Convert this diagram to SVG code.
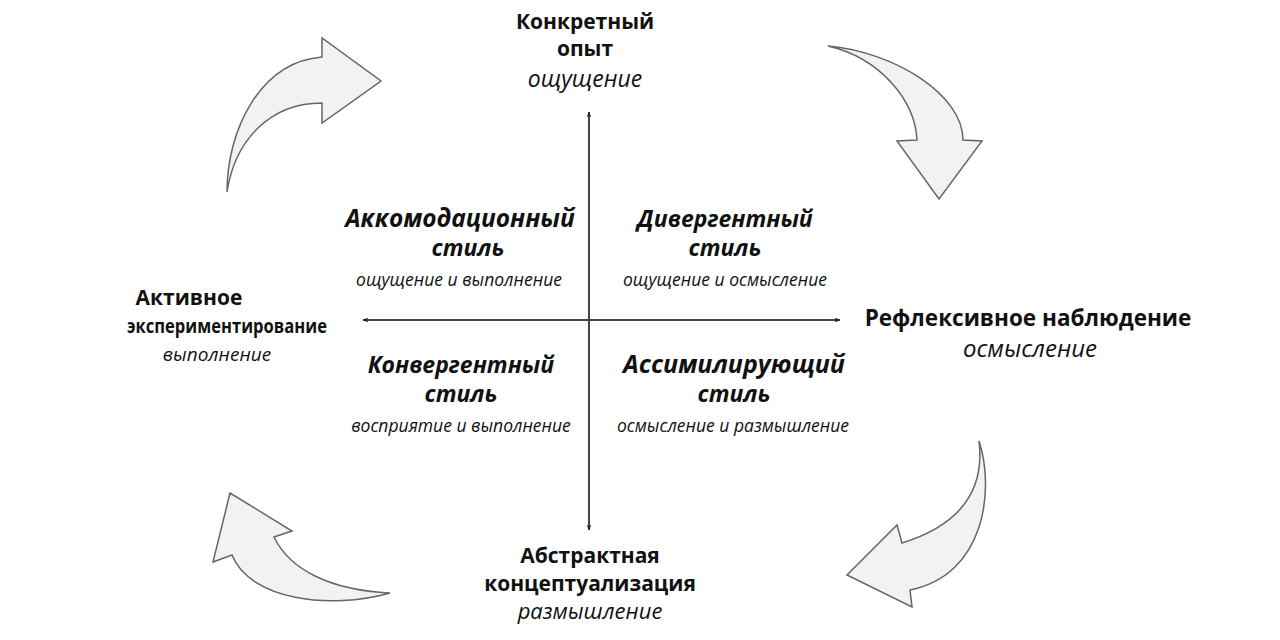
<svg xmlns="http://www.w3.org/2000/svg" width="1280" height="640" viewBox="0 0 1280 640">
<style>
text{font-family:"Open Sans","DejaVu Sans",sans-serif;fill:#111;text-anchor:middle}
.b{font-weight:bold;font-size:21px}
.i{font-style:italic;font-size:22px}
.s{font-weight:bold;font-style:italic;font-size:23px}
.t{font-style:italic;font-size:17.5px}
.arrow{fill:#f2f2f2;stroke:#666;stroke-width:1.5;stroke-linejoin:miter}
.axis{stroke:#444;stroke-width:2;fill:none}
</style>
<defs>
<marker id="ah" viewBox="0 0 10 10" refX="9" refY="5" markerWidth="6" markerHeight="6" orient="auto-start-reverse" markerUnits="userSpaceOnUse">
<path d="M0,1 L10,5 L0,9 L3,5 Z" fill="#222"/>
</marker>
</defs>
<rect width="1280" height="640" fill="#fff"/>
<g id="connectors">
<line class="axis" x1="589" y1="112" x2="589" y2="530" marker-start="url(#ah)" marker-end="url(#ah)"/>
<line class="axis" x1="363" y1="320" x2="840" y2="320" marker-start="url(#ah)" marker-end="url(#ah)"/>
<path class="arrow" d="M227,192 C227,130 260,62 322,57 L322,38 L381,81 L322,123 L322,103 C270,103 235,140 227,192 Z"/>
<path class="arrow" d="M828,46 C895,52 963,95 963,140 L982,141 L939,199 L897,141 L917,140 C915,100 880,58 828,46 Z"/>
<path class="arrow" d="M979,441 C995,490 985,575 910,590 L912,607 L847,575 L897,525 L902,543 C960,525 985,490 979,441 Z"/>
<path class="arrow" d="M390,593 C330,610 250,600 232,555 L213,562 L230,493 L292,531 L274,537 C290,570 330,590 390,593 Z"/>
</g>
<g id="top">
<text class="b" x="585" y="29">Конкретный</text>
<text class="b" x="585" y="56">опыт</text>
<text class="i" x="585" y="87" style="font-size:23px">ощущение</text>
</g>
<g id="right">
<text class="b" x="1028" y="326" style="font-size:22.5px">Рефлексивное наблюдение</text>
<text class="i" x="1030" y="357" style="font-size:24px">осмысление</text>
</g>
<g id="bottom">
<text class="b" x="590" y="563">Абстрактная</text>
<text class="b" x="590" y="591">концептуализация</text>
<text class="i" x="590" y="619">размышление</text>
</g>
<g id="left">
<text class="b" x="189" y="305">Активное</text>
<text class="b" x="227" y="333" style="font-size:19.5px" textLength="200" lengthAdjust="spacingAndGlyphs">экспериментирование</text>
<text class="i" x="217" y="361" style="font-size:19px">выполнение</text>
</g>
<g id="accommodating">
<text class="s" x="460" y="227" style="font-size:24.5px">Аккомодационный</text>
<text class="s" x="468" y="256">стиль</text>
<text class="t" x="459" y="286">ощущение и выполнение</text>
</g>
<g id="divergent">
<text class="s" x="725" y="227">Дивергентный</text>
<text class="s" x="725" y="256">стиль</text>
<text class="t" x="725" y="286">ощущение  и осмысление</text>
</g>
<g id="convergent">
<text class="s" x="461" y="373">Конвергентный</text>
<text class="s" x="461" y="402">стиль</text>
<text class="t" x="461" y="432">восприятие и выполнение</text>
</g>
<g id="assimilating">
<text class="s" x="734" y="373" style="font-size:25px">Ассимилирующий</text>
<text class="s" x="734" y="402">стиль</text>
<text class="t" x="733" y="432">осмысление и размышление</text>
</g>
</svg>
